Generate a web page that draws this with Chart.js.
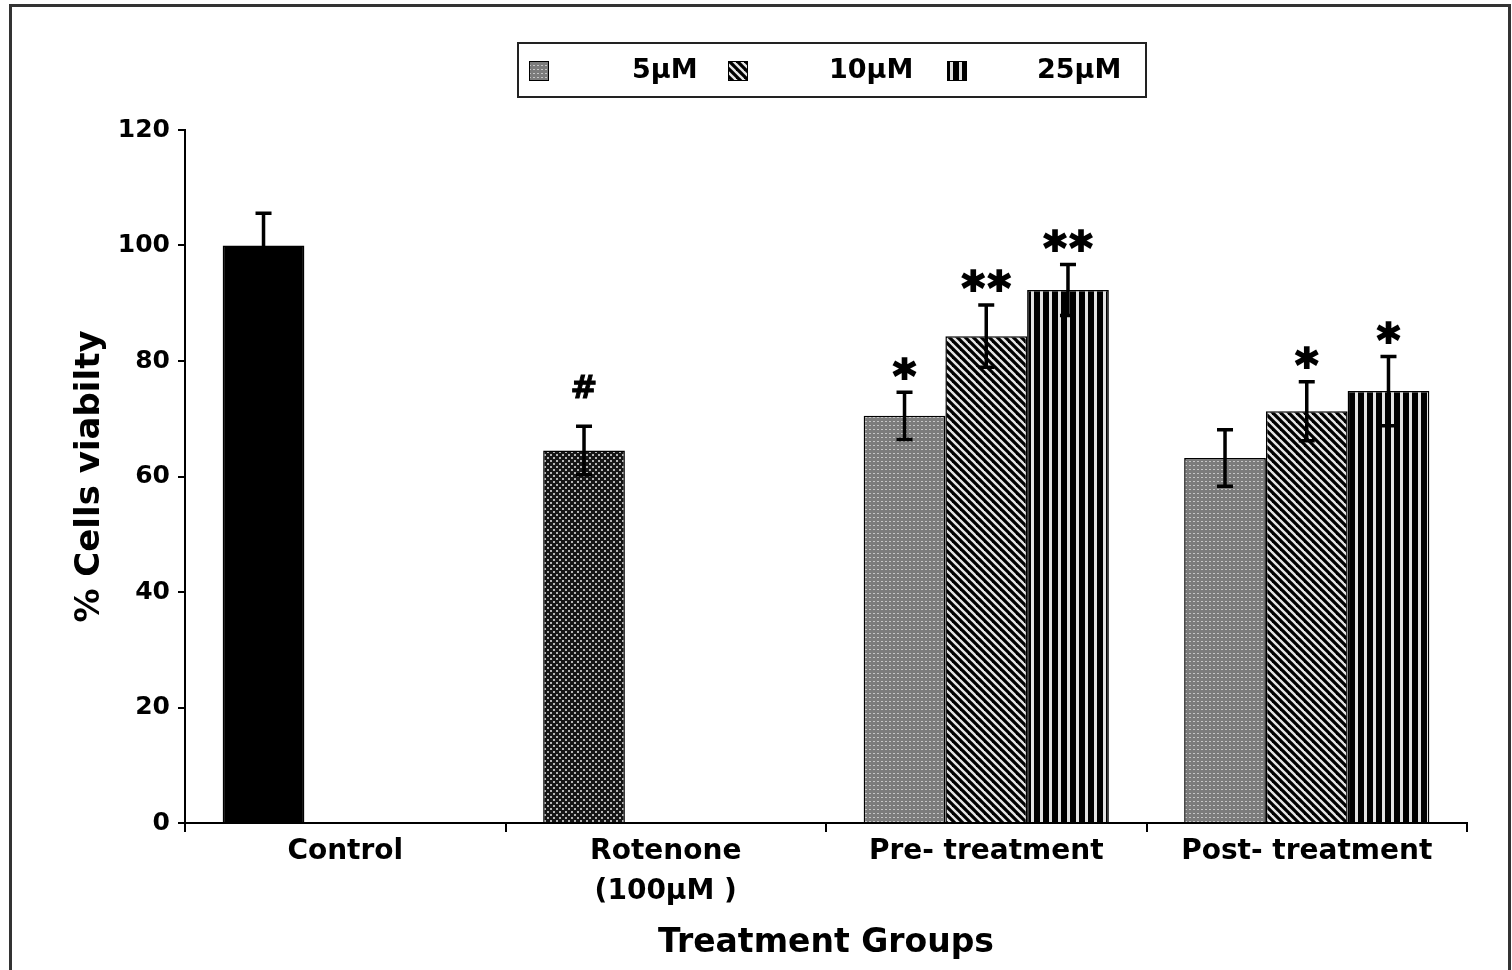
<!DOCTYPE html>
<html>
<head>
<meta charset="utf-8">
<script src="https://cdn.jsdelivr.net/npm/chart.js@4.4.1/dist/chart.umd.min.js"></script>
<style>
html, body { margin: 0; padding: 0; background: #fff; }
canvas { display: block; }
</style>
</head>
<body>
<canvas id="myChart" width="1512" height="970"></canvas>
<script>
var groups = ["Control", ["Rotenone", "(100µM )"], "Pre- treatment", "Post- treatment"];
var doses = ["5µM", "10µM", "25µM"];
// % viability, Control and Rotenone use the first slot only
var dose5 = [100, 64.5, 70.5, 63.2];
var dose10 = [null, null, 84.3, 71.3];
var dose25 = [null, null, 92.3, 74.8];
// error bars (+/-)
var err5 = [5.6, 4.2, 4.1, 4.9];
var err10 = [null, null, 5.4, 5.1];
var err25 = [null, null, 4.4, 6.0];
// significance marks
var marks5 = ["", "#", "*", ""];
var marks10 = ["", "", "**", "*"];
var marks25 = ["", "", "**", "*"];
var yTicks = [0, 20, 40, 60, 80, 100, 120];

var ctx = document.getElementById("myChart");
var g2d = ctx.getContext("2d");

function makePattern(w, h, paint) {
  var c = document.createElement("canvas");
  c.width = w; c.height = h;
  paint(c.getContext("2d"), w, h);
  return g2d.createPattern(c, "repeat");
}

// fills
var solidBlack = "#000";
var denseDots = makePattern(6, 6, function(g, w, h) {
  g.fillStyle = "#161616"; g.fillRect(0, 0, w, h);
  g.fillStyle = "#b5b5b5";
  g.fillRect(1, 1, 2, 2); g.fillRect(4, 4, 2, 2);
});
var lightDots = makePattern(4, 4, function(g, w, h) {
  g.fillStyle = "#7c7c7c"; g.fillRect(0, 0, w, h);
  g.fillStyle = "#c6c6c6";
  g.fillRect(1, 1, 2, 1);
});
var diagonal = makePattern(8, 8, function(g, w, h) {
  g.fillStyle = "#000"; g.fillRect(0, 0, w, h);
  g.strokeStyle = "#e6e6e6"; g.lineWidth = 2.4;
  [-8, 0, 8].forEach(function(k) {
    g.beginPath(); g.moveTo(-2, -2 + k); g.lineTo(10, 10 + k); g.stroke();
  });
});
var vertical = makePattern(9, 1, function(g, w, h) {
  g.fillStyle = "#000"; g.fillRect(0, 0, w, h);
  g.fillStyle = "#e2e2e2"; g.fillRect(5, 0, 3, h);
});

var figureExtras = {
  id: "figureExtras",
  beforeDraw: function(chart) {
    var c = chart.ctx;
    c.save();
    c.fillStyle = "#fff"; c.fillRect(0, 0, chart.width, chart.height);
    c.strokeStyle = "#333"; c.lineWidth = 3;
    c.strokeRect(10.5, 5.5, 1499, 990);
    c.restore();
  },
  afterDatasetsDraw: function(chart) {
    var c = chart.ctx, y = chart.scales.y;
    chart.data.datasets.forEach(function(ds, di) {
      var meta = chart.getDatasetMeta(di);
      meta.data.forEach(function(bar, i) {
        var v = ds.data[i], e = ds.errors[i];
        if (v == null) return;
        var top = y.getPixelForValue(v + e), bot = y.getPixelForValue(v - e);
        c.save();
        c.strokeStyle = "#000"; c.lineWidth = 3.5;
        c.beginPath();
        c.moveTo(bar.x, top); c.lineTo(bar.x, bot);
        c.moveTo(bar.x - 8, top); c.lineTo(bar.x + 8, top);
        c.moveTo(bar.x - 8, bot); c.lineTo(bar.x + 8, bot);
        c.stroke();
        var m = ds.marks[i];
        if (m) {
          var isHash = m === "#";
          c.font = "bold " + (isHash ? 32 : 44) + "px 'DejaVu Sans'";
          c.fillStyle = "#000"; c.strokeStyle = "#000"; c.lineWidth = isHash ? 1 : 2;
          c.textAlign = "center"; c.textBaseline = "alphabetic";
          var mt = c.measureText(m.charAt(0));
          var cy = top - (isHash ? 40 : 24);
          var ty = cy + (mt.actualBoundingBoxAscent - mt.actualBoundingBoxDescent) / 2;
          var n = m.length, step = 26;
          for (var k = 0; k < n; k++) {
            var tx = bar.x + (k - (n - 1) / 2) * step;
            c.fillText(m.charAt(k), tx, ty);
            c.strokeText(m.charAt(k), tx, ty);
          }
        }
        c.restore();
      });
    });

    // legend box
    var lx = [[529, 632], [728, 829], [947, 1037]];
    c.save();
    c.strokeStyle = "#222"; c.lineWidth = 2;
    c.strokeRect(518, 43, 628, 54);
    c.font = "bold 27px 'DejaVu Sans'";
    c.textAlign = "left"; c.textBaseline = "middle"; c.fillStyle = "#000";
    chart.data.datasets.forEach(function(ds, di) {
      c.fillStyle = ds.legendFill;
      c.fillRect(lx[di][0], 61, 19, 19);
      c.strokeStyle = "#000"; c.lineWidth = 1;
      c.strokeRect(lx[di][0] + 0.5, 61.5, 19, 19);
      c.fillStyle = "#000";
      c.fillText(ds.label, lx[di][1], 71);
    });
    c.restore();
  }
};

Chart.defaults.font.family = "'DejaVu Sans', sans-serif";
Chart.defaults.font.weight = "bold";
Chart.defaults.color = "#000";

var myChart = new Chart(ctx, {
  type: "bar",
  data: {
    labels: groups,
    datasets: [
      { label: doses[0], data: dose5, errors: err5, marks: marks5,
        backgroundColor: [solidBlack, denseDots, lightDots, lightDots], legendFill: lightDots },
      { label: doses[1], data: dose10, errors: err10, marks: marks10,
        backgroundColor: diagonal, legendFill: diagonal },
      { label: doses[2], data: dose25, errors: err25, marks: marks25,
        backgroundColor: vertical, legendFill: vertical }
    ]
  },
  options: {
    responsive: false,
    animation: false,
    layout: { padding: { left: 66, right: 45, top: 130, bottom: 0 } },
    datasets: { bar: { barPercentage: 1, categoryPercentage: 0.765, borderColor: "#000", borderWidth: 1.5 } },
    plugins: { legend: { display: false }, tooltip: { enabled: false } },
    scales: {
      x: {
        grid: { display: true, drawOnChartArea: false, offset: true, color: "#000", lineWidth: 2, tickLength: 9 },
        border: { color: "#000", width: 2 },
        ticks: { color: "#000", font: { size: 28, weight: "bold", lineHeight: 1.43 }, padding: 0, maxRotation: 0, autoSkip: false },
        title: { display: true, text: "Treatment Groups", color: "#000", font: { size: 33, weight: "bold" }, padding: { top: 0, bottom: 7 } },
        afterFit: function(s) { s.height = 147; }
      },
      y: {
        min: yTicks[0],
        max: yTicks[yTicks.length - 1],
        ticks: { stepSize: yTicks[1] - yTicks[0], color: "#000", font: { size: 25, weight: "bold" }, padding: 8 },
        grid: { drawOnChartArea: false, color: "#000", lineWidth: 2, tickLength: 7 },
        border: { color: "#000", width: 2 },
        title: { display: true, text: "% Cells viabilty", color: "#000", font: { size: 34, weight: "bold" }, padding: { top: 4, bottom: 0 } },
        afterFit: function(s) { s.width = 119; }
      }
    }
  },
  plugins: [figureExtras]
});
</script>
</body>
</html>
